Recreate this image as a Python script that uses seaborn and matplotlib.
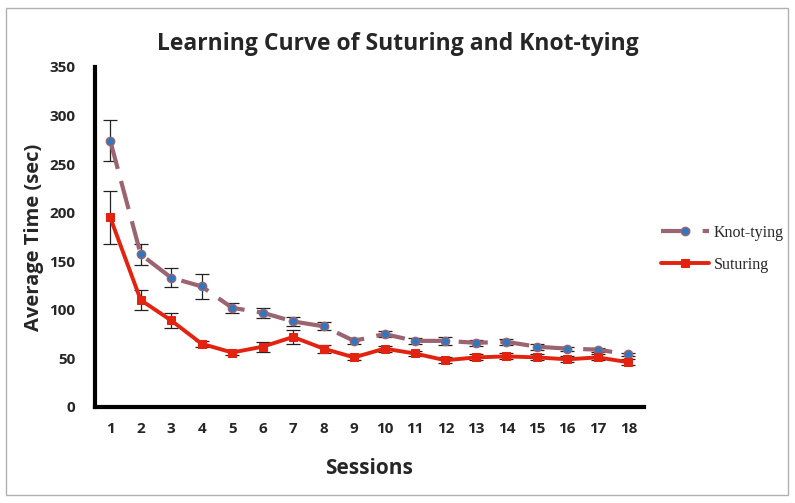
import pandas as pd
import matplotlib.pyplot as plt
import seaborn as sns
from matplotlib.patches import Rectangle

# Values
sessions = list(range(1, 19))
knot_mean = [274, 157, 133, 124, 102, 97, 88, 83, 68, 75, 68, 68, 66, 67, 62, 60, 59, 54]
knot_err = [21, 11, 10, 13, 5, 5, 5, 4, 3, 3, 3, 4, 3, 3, 3, 2, 2, 2]
sut_mean = [195, 110, 89, 65, 56, 62, 72, 60, 51, 60, 55, 48, 51, 52, 51, 49, 51, 46]
sut_err = [27, 10, 8, 3, 3, 5, 7, 4, 3, 3, 3, 3, 3, 3, 3, 3, 3, 3]

df = pd.DataFrame({
    "Session": sessions * 2,
    "Time": knot_mean + sut_mean,
    "Err": knot_err + sut_err,
    "Task": ["Knot-tying"] * 18 + ["Suturing"] * 18,
})

sns.set_style("white")
plt.rcParams['font.family'] = ['Open Sans', 'DejaVu Sans']

fig = plt.figure(figsize=(7.95, 5.03), dpi=100)
ax = fig.add_axes([0.1195, 0.191, 0.69, 0.676])

knot_col = "#9a6470"
sut_col = "#e3230f"

knot = df[df.Task == "Knot-tying"]
sut = df[df.Task == "Suturing"]

# error bars first so lines sit on top
ax.errorbar(knot.Session, knot.Time, yerr=knot.Err, fmt="none", ecolor="#222222",
            elinewidth=0.9, capsize=5, capthick=0.9, zorder=2)
ax.errorbar(sut.Session, sut.Time, yerr=sut.Err, fmt="none", ecolor="#222222",
            elinewidth=0.9, capsize=5, capthick=0.9, zorder=2)

sns.lineplot(data=knot, x="Session", y="Time", ax=ax, color=knot_col, linewidth=3,
             marker="o", markersize=6, markerfacecolor="#2f78c0", markeredgecolor=knot_col,
             markeredgewidth=1, label="Knot-tying", zorder=3)
ax.lines[-1].set_dashes([7, 3])
sns.lineplot(data=sut, x="Session", y="Time", ax=ax, color=sut_col, linewidth=2.8,
             marker="s", markersize=6, markerfacecolor=sut_col, markeredgecolor=sut_col,
             label="Suturing", zorder=4)

ax.set_xlim(0.5, 18.5)
ax.set_ylim(0, 350)
ax.set_xticks(sessions)
ax.set_yticks(range(0, 351, 50))
ax.tick_params(axis="both", length=0, labelsize=11)
ax.tick_params(axis="x", pad=11)
ax.tick_params(axis="y", pad=14)
for lbl in ax.get_xticklabels() + ax.get_yticklabels():
    lbl.set_fontweight("bold")

for side in ["top", "right"]:
    ax.spines[side].set_visible(False)
for side in ["left", "bottom"]:
    ax.spines[side].set_linewidth(3)
    ax.spines[side].set_color("black")

ax.set_xlabel("Sessions", fontsize=15, fontweight="bold", labelpad=16)
ax.set_ylabel("Average Time (sec)", fontsize=14.5, fontweight="bold", labelpad=4)
fig.text(0.5, 0.913, "Learning Curve of Suturing and Knot-tying", ha="center", va="center",
         fontsize=16.5, fontweight="bold")

leg = ax.legend(loc="center left", bbox_to_anchor=(1.005, 0.465), frameon=False,
                handlelength=3.0, labelspacing=1.0, handletextpad=0.3,
                prop={"family": "Liberation Serif", "size": 11.5})
leg.get_lines()[0].set_dashes([7, 3])

fig.patches.append(Rectangle((0.008, 0.016), 0.983, 0.969, transform=fig.transFigure,
                             fill=False, edgecolor="#b0b0b0", linewidth=1))

fig.savefig("out.png", dpi=100)
